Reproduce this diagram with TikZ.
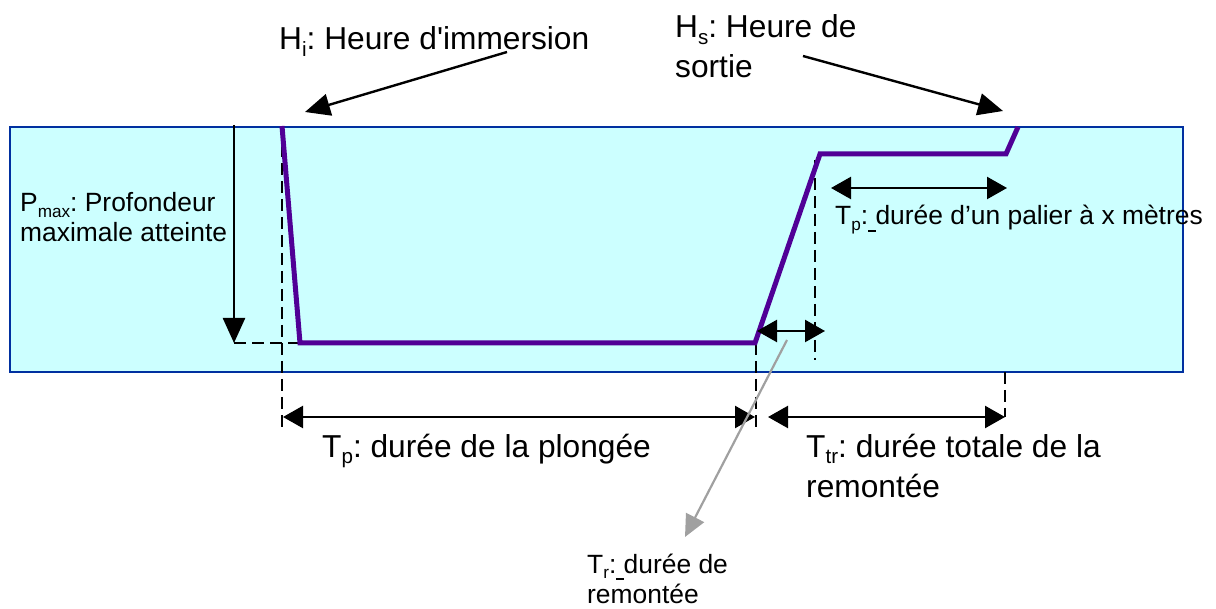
\documentclass[tikz,border=0pt]{standalone}
\usepackage{fontspec}
\usepackage{graphicx}
\setmainfont{Liberation Sans}[Ligatures=TeXOff]
\usetikzlibrary{arrows.meta}
\definecolor{seafill}{RGB}{204,255,255}
\definecolor{seaedge}{RGB}{0,48,160}
\definecolor{profilecol}{RGB}{80,0,150}
\definecolor{greyarrow}{RGB}{160,160,160}
\newcommand\lowsub[1]{\raisebox{-0.22em}{\scalebox{0.65}{#1}}}
\newcommand\ulsp{\rlap{\rule[-0.25em]{0.28em}{0.07em}}\ }
\frenchspacing
\begin{document}
\begin{tikzpicture}[x=1pt,y=-1pt,
  bigtxt/.style={font=\fontsize{31.7}{40}\selectfont\frenchspacing, inner sep=0pt, anchor=base west, align=left},
  smalltxt/.style={font=\fontsize{26.4}{30}\selectfont\frenchspacing, inner sep=0pt, anchor=base west, align=left},
  dimarrow/.style={line width=2.4pt, {Triangle[length=20pt,width=22pt]}-{Triangle[length=20pt,width=22pt]}},
  ptr/.style={line width=2.4pt, -{Triangle[length=25pt,width=22pt]}},
  greyptr/.style={line width=2.2pt, draw=greyarrow, -{Triangle[length=22pt,width=20pt]}},
  guide/.style={line width=2.2pt, dash pattern=on 12pt off 6pt},
  profile/.style={line width=5pt, draw=profilecol, line join=miter},
  sea/.style={fill=seafill, draw=seaedge, line width=2pt}]
\useasboundingbox (0,0) rectangle (1216,609);
% water
\draw[sea] (10,127) rectangle (1183,372);
% key coordinates
\coordinate (imm) at (282,126);
\coordinate (bottomA) at (300,343);
\coordinate (bottomB) at (755,343);
\coordinate (stopA) at (820,154);
\coordinate (stopB) at (1006,154);
\coordinate (out) at (1018,127);
\coordinate (pmaxTop) at (234,125);
\coordinate (pmaxTip) at (234,343);
\coordinate (g1top) at (282,127);
\coordinate (g1bot) at (282,428);
\coordinate (g2top) at (756,343);
\coordinate (g2bot) at (756,432);
\coordinate (g3top) at (815,160);
\coordinate (g3bot) at (815,360);
\coordinate (g4top) at (1005,372);
\coordinate (g4bot) at (1005,417);
\coordinate (tpL) at (283,417);
\coordinate (tpR) at (755,417);
\coordinate (ttrL) at (768,417);
\coordinate (ttrR) at (1005,417);
\coordinate (trL) at (757,331);
\coordinate (trR) at (825,331);
\coordinate (palL) at (831,188);
\coordinate (palR) at (1007,188);
\coordinate (hiFrom) at (507,52);
\coordinate (hiTip) at (305,112);
\coordinate (hsFrom) at (803,56);
\coordinate (hsTip) at (1003,111);
\coordinate (grFrom) at (787,340);
\coordinate (grTip) at (685,537);
% guides
\draw[guide] (g1top) -- (g1bot);
\draw[guide] (g2top) -- (g2bot);
\draw[guide] (g3top) -- (g3bot);
\draw[guide] (g4top) -- (g4bot);
\draw[guide] (pmaxTip) -- (bottomA);
% profile
\draw[profile] (imm) -- (bottomA) -- (bottomB) -- (stopA) -- (stopB) -- (out);
% arrows
\draw[ptr] (pmaxTop) -- (pmaxTip);
\draw[dimarrow] (tpL) -- (tpR);
\draw[dimarrow] (ttrL) -- (ttrR);
\draw[dimarrow] (trL) -- (trR);
\draw[dimarrow] (palL) -- (palR);
\draw[ptr] (hiFrom) -- (hiTip);
\draw[ptr] (hsFrom) -- (hsTip);
\draw[greyptr] (grFrom) -- (grTip);
% texts (multi-line nodes: base is the last line)
\node[bigtxt] (hi) at (279,50) {H\lowsub{i}: Heure d'immersion};
\node[bigtxt] (hs) at (675,78) {H\lowsub{s}: Heure de\\sortie};
\node[smalltxt] (pmax) at (20,242) {P\lowsub{max}: Profondeur\\maximale atteinte};
\node[smalltxt] (pal) at (835,225) {T\lowsub{p}:\ulsp durée d’un palier à x mètres};
\node[bigtxt] (plong) at (322,457) {T\lowsub{p}: durée de la plongée};
\node[bigtxt] (ttr) at (806,497) {T\lowsub{tr}: durée totale de la\\remontée};
\node[smalltxt] (tr) at (587,603) {T\lowsub{r}:\ulsp durée de\\remontée};
\end{tikzpicture}
\end{document}
